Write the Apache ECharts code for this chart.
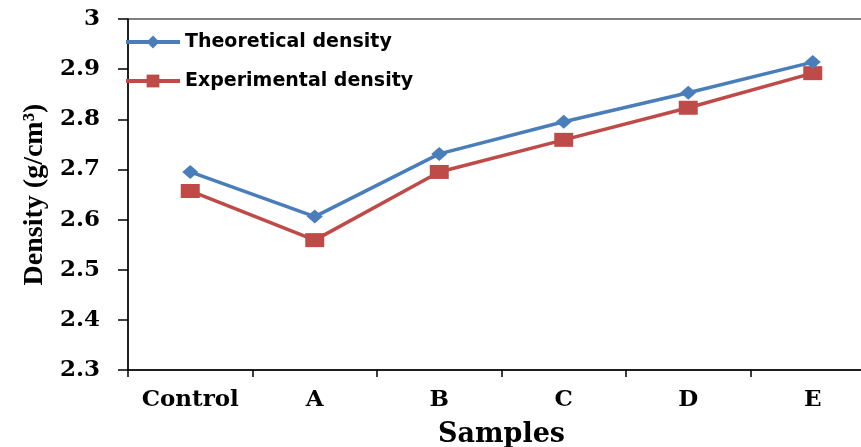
<!DOCTYPE html>
<html>
<head>
<meta charset="utf-8">
<script src="https://cdn.jsdelivr.net/npm/echarts@6/dist/echarts.min.js"></script>
<style>
html,body{margin:0;padding:0;background:#fff;overflow:hidden;width:861px;height:447px;}
#chart{width:861px;height:447px;}
</style>
</head>
<body>
<div id="chart"></div>
<script>
const categories = ['Control', 'A', 'B', 'C', 'D', 'E'];
const theoretical = [2.695, 2.606, 2.731, 2.795, 2.853, 2.914];
const experimental = [2.657, 2.559, 2.695, 2.759, 2.823, 2.892];
const seriesNames = ['Theoretical density', 'Experimental density'];
const xAxisTitle = 'Samples';
const yAxisTitle = 'Density (g/cm\u00B3)';

const chart = echarts.init(document.getElementById('chart'), null, {renderer: 'canvas'});
const serifBold = {fontFamily: 'DejaVu Serif', fontWeight: 'bold', color: '#000'};

chart.setOption({
  animation: false,
  backgroundColor: '#fff',
  grid: {
    left: 128, top: 19, width: 747, height: 351,
    outerBoundsMode: 'none',
    containLabel: false,
    show: true, borderColor: '#000', borderWidth: 1, backgroundColor: 'transparent'
  },
  legend: {
    orient: 'vertical',
    left: 124, top: 32, padding: 0,
    itemWidth: 54, itemHeight: 16, itemGap: 19,
    lineStyle: {width: 4},
    textStyle: {fontFamily: 'DejaVu Sans', fontWeight: 'bold', fontSize: 19, color: '#000', lineHeight: 20},
    data: seriesNames
  },
  xAxis: {
    type: 'category',
    data: categories,
    boundaryGap: true,
    axisLine: {lineStyle: {color: '#000', width: 1.5}},
    axisTick: {show: true, length: 7, lineStyle: {color: '#000', width: 1.5}},
    axisLabel: Object.assign({fontSize: 23, margin: 19, interval: 0}, serifBold),
    name: xAxisTitle,
    nameLocation: 'middle',
    nameGap: 51,
    nameTextStyle: Object.assign({fontSize: 27}, serifBold)
  },
  yAxis: {
    type: 'value',
    min: 2.3, max: 3, interval: 0.1,
    axisLine: {show: true, lineStyle: {color: '#000', width: 1.5}},
    axisTick: {show: true, length: 10, lineStyle: {color: '#000', width: 1.5}},
    splitLine: {show: false},
    axisLabel: Object.assign({fontSize: 23, margin: 28, formatter: v => String(+v.toFixed(1))}, serifBold),
    name: yAxisTitle,
    nameLocation: 'middle',
    nameGap: 74,
    nameRotate: 90,
    nameTextStyle: {fontFamily: 'Liberation Serif', fontWeight: 'bold', fontSize: 28, color: '#000'}
  },
  series: [
    {
      name: seriesNames[0],
      type: 'line',
      data: theoretical,
      symbol: 'diamond',
      symbolSize: [16, 14],
      itemStyle: {color: '#4A7EBB'},
      lineStyle: {color: '#4A7EBB', width: 3.5},
      z: 3
    },
    {
      name: seriesNames[1],
      type: 'line',
      data: experimental,
      symbol: 'rect',
      symbolSize: [19, 14],
      itemStyle: {color: '#BE4B48'},
      lineStyle: {color: '#BE4B48', width: 3.5},
      z: 2
    }
  ]
});
</script>
</body>
</html>
